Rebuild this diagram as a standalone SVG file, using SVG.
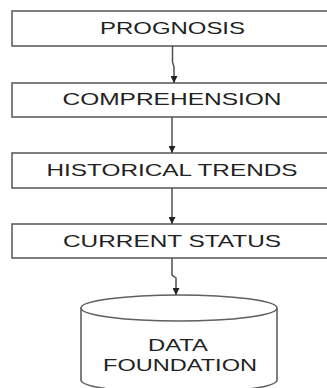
<svg xmlns="http://www.w3.org/2000/svg" width="327" height="388" viewBox="0 0 327 388">
<defs>
<style>
.box{fill:#fff;stroke:#606060;stroke-width:1.6}
.lbl{font-family:"Liberation Sans",Arial,sans-serif;font-size:17px;fill:#222;text-anchor:middle}
.con{fill:none;stroke:#505050;stroke-width:1.5}
</style>
<marker id="ah" viewBox="0 0 10 10" refX="10" refY="5" markerWidth="7" markerHeight="7" markerUnits="userSpaceOnUse" orient="auto">
<path d="M0,0 L10,5 L0,10 z" fill="#222"/>
</marker>
</defs>
<rect width="327" height="388" fill="#fff"/>
<g id="prognosis"><rect class="box" x="12" y="11" width="330" height="35"/><text class="lbl" x="172.5" y="34" textLength="145" lengthAdjust="spacingAndGlyphs">PROGNOSIS</text></g>
<g id="comprehension"><rect class="box" x="12" y="83" width="330" height="34"/><text class="lbl" x="172" y="105" textLength="219" lengthAdjust="spacingAndGlyphs">COMPREHENSION</text></g>
<g id="historical"><rect class="box" x="12" y="153" width="330" height="35"/><text class="lbl" x="172" y="176" textLength="251" lengthAdjust="spacingAndGlyphs">HISTORICAL TRENDS</text></g>
<g id="current"><rect class="box" x="12" y="224" width="330" height="34"/><text class="lbl" x="172" y="247" textLength="218" lengthAdjust="spacingAndGlyphs">CURRENT STATUS</text></g>
<g id="data">
<path class="box" d="M81,308 L81,380 A98,13 0 0 0 277,380 L277,308"/>
<ellipse class="box" cx="179" cy="308" rx="98" ry="13"/>
<text class="lbl" x="178" y="351" textLength="60" lengthAdjust="spacingAndGlyphs">DATA</text>
<text class="lbl" x="180" y="371" textLength="154" lengthAdjust="spacingAndGlyphs">FOUNDATION</text>
</g>
<g id="connectors">
<path class="con" d="M172.5,46 L172.5,62 L174,67 L174,83" marker-end="url(#ah)"/>
<path class="con" d="M172,117 L172,153" marker-end="url(#ah)"/>
<path class="con" d="M172,188 L172,224" marker-end="url(#ah)"/>
<path class="con" d="M172,258 L172,275 L176,278 L176,295" marker-end="url(#ah)"/>
</g>
</svg>
